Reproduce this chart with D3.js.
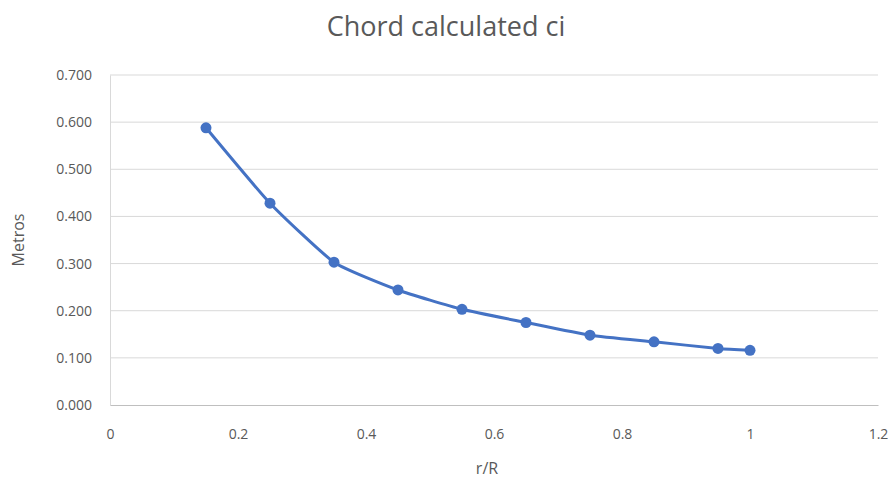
<!DOCTYPE html>
<html>
<head>
<meta charset="utf-8">
<script src="https://cdn.jsdelivr.net/npm/d3@7"></script>
<style>
  body { margin: 0; background: #fff; }
  text { font-family: "Open Sans", "Liberation Sans", sans-serif; fill: #595959; }
</style>
</head>
<body>
<div id="main"></div>
<script>

// r/R positions and calculated chord (m)
var rR = [0.15, 0.25, 0.35, 0.45, 0.55, 0.65, 0.75, 0.85, 0.95, 1.0];
var chord = [0.588, 0.428, 0.303, 0.244, 0.203, 0.175, 0.148, 0.134, 0.120, 0.116];

var xTicks = [0, 0.2, 0.4, 0.6, 0.8, 1, 1.2];
var yTicks = [0, 0.1, 0.2, 0.3, 0.4, 0.5, 0.6, 0.7];

var w = 896;
var h = 486;
var margin = {top: 75, right: 18, bottom: 81, left: 110};

var svg = d3.select("#main").append("svg")
    .attr("width", w)
    .attr("height", h);

var x = d3.scaleLinear()
    .domain([0, 1.2])
    .range([margin.left, w - margin.right]);

var y = d3.scaleLinear()
    .domain([0, 0.7])
    .range([h - margin.bottom, margin.top]);

// horizontal gridlines
svg.append("g")
    .selectAll("line")
    .data(yTicks.slice(1))
    .enter()
    .append("line")
    .attr("x1", x(0))
    .attr("x2", x(1.2))
    .attr("y1", function(d) { return y(d); })
    .attr("y2", function(d) { return y(d); })
    .attr("stroke", "#d9d9d9")
    .attr("stroke-width", 1);

// y axis
var yAxis = svg.append("g")
    .attr("transform", "translate(" + x(0) + ",0)")
    .call(d3.axisLeft(y).tickValues(yTicks).tickFormat(d3.format(".3f")).tickSize(0).tickPadding(18));
yAxis.select(".domain").attr("stroke", "#d9d9d9");
yAxis.selectAll("text").style("font-size", "14px").attr("fill", "#595959");

// x axis
var xAxis = svg.append("g")
    .attr("transform", "translate(0," + y(0) + ")")
    .call(d3.axisBottom(x).tickValues(xTicks).tickFormat(function(d) { return String(d); }).tickSize(0).tickPadding(24));
xAxis.select(".domain").attr("stroke", "#bfbfbf");
xAxis.selectAll("text").style("font-size", "14px").attr("fill", "#595959");

// lightly smoothed line + markers
var pts = rR.map(function(d, i) { return [d, chord[i]]; });

var line = d3.line()
    .x(function(d) { return x(d[0]); })
    .y(function(d) { return y(d[1]); })
    .curve(d3.curveCardinal.tension(0.5));

svg.append("path")
    .datum(pts)
    .attr("d", line)
    .attr("fill", "none")
    .attr("stroke", "#4472c4")
    .attr("stroke-width", 3)
    .attr("stroke-linejoin", "round");

svg.selectAll("circle")
    .data(pts)
    .enter()
    .append("circle")
    .attr("cx", function(d) { return x(d[0]); })
    .attr("cy", function(d) { return y(d[1]); })
    .attr("r", 5.5)
    .attr("fill", "#4472c4");

// titles
svg.append("text")
    .attr("x", 446)
    .attr("y", 36)
    .attr("text-anchor", "middle")
    .style("font-size", "27px")
    .text("Chord calculated ci");

svg.append("text")
    .attr("x", 487)
    .attr("y", 474)
    .attr("text-anchor", "middle")
    .style("font-size", "16px")
    .text("r/R");

svg.append("text")
    .attr("transform", "translate(24,240) rotate(-90)")
    .attr("text-anchor", "middle")
    .style("font-size", "16px")
    .text("Metros");

</script>
</body>
</html>
